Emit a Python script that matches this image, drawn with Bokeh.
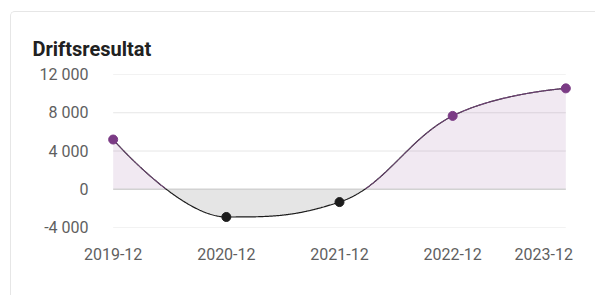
import numpy as np
from bokeh.plotting import figure
from bokeh.models import Range1d, FixedTicker
from bokeh.embed import file_html
from bokeh.resources import INLINE

# ---- data ----
title_text = "Driftsresultat"
periods = ["2019-12", "2020-12", "2021-12", "2022-12", "2023-12"]
values = [5200, -2900, -1340, 7670, 10550]
y_ticks = [-4000, 0, 4000, 8000, 12000]
y_tick_labels = ["-4 000", "0", "4 000", "8 000", "12 000"]

PURPLE = "#7b3b85"
DARK = "#1c1c1c"
FONT = "Roboto"


def spline_segments(xs, ys, smoothing=1.5):
    """Highcharts-style spline control points."""
    n = len(xs)
    right = [None] * n
    segs = []
    d = smoothing + 1
    for i in range(n):
        px, py = xs[i], ys[i]
        lc = None
        if 0 < i < n - 1:
            lx, ly = xs[i - 1], ys[i - 1]
            nx, ny = xs[i + 1], ys[i + 1]
            lcx = (smoothing * px + lx) / d
            lcy = (smoothing * py + ly) / d
            rcx = (smoothing * px + nx) / d
            rcy = (smoothing * py + ny) / d
            corr = 0.0
            if rcx != lcx:
                corr = (rcy - lcy) * (rcx - px) / (rcx - lcx) + py - rcy
            lcy += corr
            rcy += corr
            if lcy > ly and lcy > py:
                lcy = max(ly, py); rcy = 2 * py - lcy
            elif lcy < ly and lcy < py:
                lcy = min(ly, py); rcy = 2 * py - lcy
            if rcy > ny and rcy > py:
                rcy = max(ny, py); lcy = 2 * py - rcy
            elif rcy < ny and rcy < py:
                rcy = min(ny, py); lcy = 2 * py - rcy
            right[i] = (rcx, rcy)
            lc = (lcx, lcy)
        if i > 0:
            c1 = right[i - 1] or (xs[i - 1], ys[i - 1])
            c2 = lc or (px, py)
            segs.append(((xs[i - 1], ys[i - 1]), c1, c2, (px, py)))
    return segs


xi = list(range(len(periods)))
segs = spline_segments(xi, values)
t = np.linspace(0, 1, 160)
cx, cy = [], []
for k, (p0, p1, p2, p3) in enumerate(segs):
    tt = t if k == 0 else t[1:]
    b0 = (1 - tt) ** 3; b1 = 3 * (1 - tt) ** 2 * tt; b2 = 3 * (1 - tt) * tt ** 2; b3 = tt ** 3
    cx.append(b0 * p0[0] + b1 * p1[0] + b2 * p2[0] + b3 * p3[0])
    cy.append(b0 * p0[1] + b1 * p1[1] + b2 * p2[1] + b3 * p3[1])
cx = np.concatenate(cx)
cy = np.concatenate(cy)

p = figure(width=585, height=284, output_backend="svg", toolbar_location=None,
           x_range=Range1d(-0.05, len(periods) - 1 + 0.05),
           y_range=Range1d(y_ticks[0], y_ticks[-1]),
           min_border_left=96, min_border_right=25, min_border_top=62, min_border_bottom=69)
p.margin = (11, 0, 0, 10)
p.styles = {"border-left": "1px solid #e6e6e6", "border-top": "1px solid #e6e6e6",
            "border-top-left-radius": "5px"}
p.outline_line_color = None
p.xgrid.visible = False
p.ygrid.visible = False

# title
p.title.text = title_text
p.title.align = "left"
p.title.offset = -75
p.title.standoff = 27
p.title.text_font = FONT
p.title.text_font_size = "20px"
p.title.text_font_style = "bold"
p.title.text_color = "#212121"

ya = p.yaxis[0]
ya.ticker = FixedTicker(ticks=y_ticks)
ya.major_label_overrides = {v: s for v, s in zip(y_ticks, y_tick_labels)}
ya.axis_line_color = None
ya.major_tick_line_color = None
ya.minor_tick_line_color = None
ya.major_label_standoff = 13
ya.major_label_text_font = FONT
ya.major_label_text_font_size = "16px"
ya.major_label_text_color = "#5f5f5f"

# x axis: last label pulled inward so it stays inside the card
px_per_unit = 112.75
x_tick_pos = [float(v) for v in xi]
x_tick_pos[-1] = xi[-1] - 22 / px_per_unit
xa = p.xaxis[0]
xa.ticker = FixedTicker(ticks=x_tick_pos)
xa.major_label_overrides = {v: s for v, s in zip(x_tick_pos, periods)}
xa.axis_line_color = None
xa.major_tick_line_color = None
xa.minor_tick_line_color = None
xa.major_label_standoff = 14
xa.major_label_text_font = FONT
xa.major_label_text_font_size = "16px"
xa.major_label_text_color = "#5f5f5f"

# gridlines
gt = [v for v in y_ticks if v != 0]
p.segment(x0=[xi[0]] * len(gt), x1=[xi[-1]] * len(gt), y0=gt, y1=gt, line_color="#e6e6e6", line_width=1)

# fills
p.varea(x=cx, y1=np.zeros_like(cy), y2=np.maximum(cy, 0), fill_color=PURPLE, fill_alpha=0.11)
p.varea(x=cx, y1=np.minimum(cy, 0), y2=np.zeros_like(cy), fill_color="#000000", fill_alpha=0.10)

# zero line
p.segment(x0=[xi[0]], x1=[xi[-1]], y0=[0], y1=[0], line_color="#d2d2d2", line_width=1.6)

# curve
p.line(cx, cy, line_color=DARK, line_width=1.2)
pos = np.where(cy >= 0, cy, np.nan)
p.line(cx, pos, line_color="#8c4d95", line_width=0.9)

# points
colors = [PURPLE if v >= 0 else DARK for v in values]
p.scatter(xi, values, size=9, fill_color=colors, line_color=colors)

open("out.html", "w").write(file_html(p, INLINE))
